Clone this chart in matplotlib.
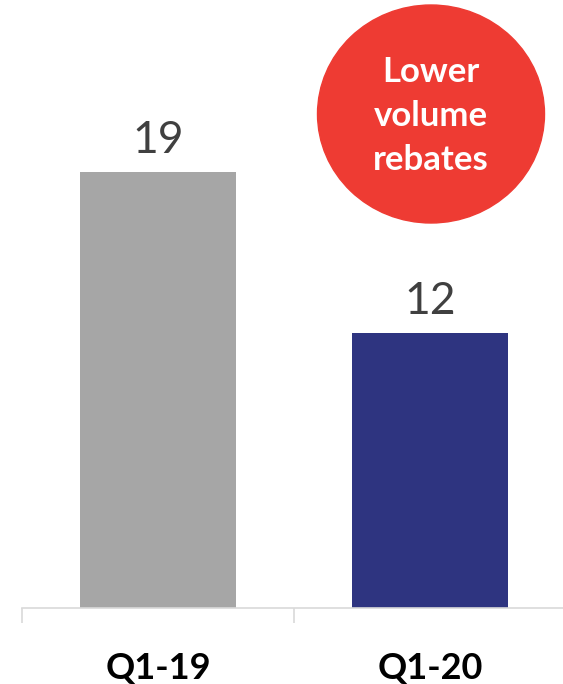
import matplotlib.pyplot as plt
from matplotlib.patches import Ellipse

quarters = ['Q1-19', 'Q1-20']
values = [19, 12]
bar_colors = ['#a6a6a6', '#2e3480']
callout = 'Lower\nvolume\nrebates'

plt.rcParams['font.family'] = ['Lato', 'DejaVu Sans']

W, H = 563, 684
fig = plt.figure(figsize=(W / 100, H / 100), dpi=100)

# axes spans from the left tick to just past the right edge, baseline at y=608px
ax = fig.add_axes([22 / W, (H - 608) / H, 544 / W, 608 / H])
x = list(range(len(quarters)))
ax.bar(x, values, width=0.57, color=bar_colors, zorder=2)
ax.set_xlim(-0.5, 1.5)
ax.set_ylim(0, 26.5)

for xi, v in zip(x, values):
    ax.annotate(f'{v}', (xi, v), xytext=(0, 8), textcoords='offset points',
                ha='center', va='bottom', fontsize=32, color='#404040')

for s in ['top', 'left', 'right']:
    ax.spines[s].set_visible(False)
ax.spines['bottom'].set_color('#d9d9d9')
ax.spines['bottom'].set_linewidth(1.2)
ax.set_yticks([])
ax.set_xticks([-0.5, 0.5, 1.5])
ax.set_xticklabels([])
ax.tick_params(axis='x', direction='out', length=11, width=1.2, color='#d9d9d9')

for xi, q in zip(x, quarters):
    ax.text(xi, -60 / 608, q, transform=ax.get_xaxis_transform(),
            ha='center', va='center', fontsize=26, fontweight='bold', color='black')

# red callout bubble
fig.patches.append(Ellipse((431 / W, 1 - 114 / H), 227 / W, 218 / H,
                           transform=fig.transFigure, color='#ee3b33', zorder=5))
fig.text(431 / W, 1 - 116 / H, callout, ha='center', va='center',
         fontsize=25, fontweight='bold', color='white', linespacing=1.45, zorder=6)

fig.savefig('out.png', dpi=100)
